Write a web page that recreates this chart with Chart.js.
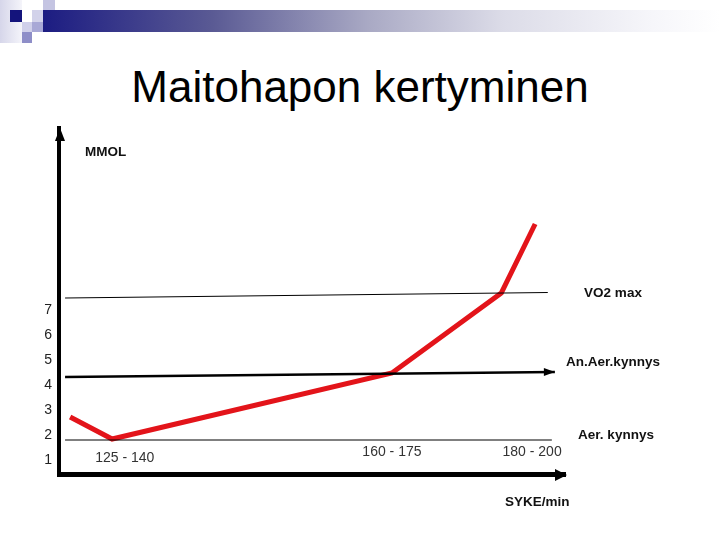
<!DOCTYPE html>
<html>
<head>
<meta charset="utf-8">
<script src="https://cdn.jsdelivr.net/npm/chart.js@4/dist/chart.umd.min.js"></script>
<style>
  body { margin: 0; background: #fff; }
  #wrap { position: relative; width: 720px; height: 540px; overflow: hidden; }
  #wrap canvas { position: absolute; left: 0; top: 0; }
  .bar { position: absolute; left: 43px; top: 10px; width: 677px; height: 22px;
         background: linear-gradient(to right, #1c1c82 0%, #5a5a94 25%, #a9a9c4 48%, #dcdce8 68%, #f6f6fa 90%, #fff 100%); }
  .sq { position: absolute; }
  h1 { position: absolute; left: 0; top: 62px; width: 720px; margin: 0; text-align: center;
       font: 44px "Liberation Sans", Arial, sans-serif; color: #000; font-weight: normal; }
</style>
</head>
<body>
<div id="wrap">
  <div class="sq" style="left:0;top:0;width:22px;height:43px;background:linear-gradient(to right,#d6d6ea,#f4f4fa);"></div>
  <div class="sq" style="left:43px;top:0;width:12px;height:10px;background:#c4c4e2;"></div>
  <div class="sq" style="left:10px;top:10px;width:12px;height:12px;background:#14147c;"></div>
  <div class="sq" style="left:32px;top:10px;width:11px;height:12px;background:#d2d2ea;"></div>
  <div class="sq" style="left:43px;top:10px;width:12px;height:12px;background:#a4a4d4;"></div>
  <div class="sq" style="left:22px;top:22px;width:10px;height:10px;background:#d0d0ea;"></div>
  <div class="sq" style="left:32px;top:22px;width:11px;height:10px;background:#a8a8d6;"></div>
  <div class="sq" style="left:22px;top:32px;width:10px;height:11px;background:#8e8ec8;"></div>
  <div class="bar"></div>
  <h1>Maitohapon kertyminen</h1>
  <canvas id="myChart" width="720" height="540"></canvas>
</div>
<script>
// values (x = position along the heart-rate axis 0..10, y = MMOL)
const yTicks = [1, 2, 3, 4, 5, 6, 7];
const lactX = [0.22, 1.05, 6.58, 8.74, 9.41];
const lactY = [2.72, 1.84, 4.48, 7.68, 10.44];

const vo2X = [0.12, 9.66];
const vo2Y = [7.48, 7.70];
const anaerX = [0.12, 9.80];
const anaerY = [4.32, 4.52];
const aerX = [0.12, 9.74];
const aerY = [1.80, 1.80];

const hrLabels = ["125 - 140", "160 - 175", "180 - 200"];
const hrLabelX = [1.30, 6.58, 9.35];
const hrLabelY = [1.08, 1.32, 1.32];

const lineNames = ["VO2 max", "An.Aer.kynnys", "Aer. kynnys"];
const lineNameY = [7.68, 4.92, 2.0];

const FONT = '"Liberation Sans", Arial, sans-serif';

function pts(xs, ys) {
  return xs.map(function(x, i) { return { x: x, y: ys[i] }; });
}

function arrow(ctx, x, y, dir, len, half) {
  ctx.beginPath();
  if (dir === "right") {
    ctx.moveTo(x, y); ctx.lineTo(x - len, y - half); ctx.lineTo(x - len, y + half);
  } else {
    ctx.moveTo(x, y); ctx.lineTo(x - half, y + len); ctx.lineTo(x + half, y + len);
  }
  ctx.closePath();
  ctx.fill();
}

const extras = {
  id: "extras",
  afterDraw: function(chart) {
    const ctx = chart.ctx;
    const a = chart.chartArea;
    const xs = chart.scales.x, ys = chart.scales.y;
    ctx.save();
    ctx.fillStyle = "#000";
    // axis arrows
    arrow(ctx, a.left + 1, a.top, "up", 13, 5);
    arrow(ctx, a.right + 2, a.bottom + 1, "right", 12, 6);
    // anaerobic threshold arrow
    arrow(ctx, xs.getPixelForValue(anaerX[1]), ys.getPixelForValue(anaerY[1]), "right", 11, 4);

    // heart rate labels
    ctx.font = "14px " + FONT;
    ctx.fillStyle = "#333";
    ctx.textAlign = "center";
    ctx.textBaseline = "middle";
    hrLabels.forEach(function(t, i) {
      ctx.fillText(t, xs.getPixelForValue(hrLabelX[i]), ys.getPixelForValue(hrLabelY[i]));
    });

    // threshold names
    ctx.font = "bold 13.5px " + FONT;
    ctx.fillStyle = "#111";
    lineNames.forEach(function(t, i) {
      ctx.fillText(t, a.right + 48 + (i === 2 ? 3 : 0), ys.getPixelForValue(lineNameY[i]));
    });

    // axis titles
    ctx.textAlign = "left";
    ctx.fillText("MMOL", a.left + 26, ys.getPixelForValue(13.32));
    ctx.textAlign = "center";
    ctx.fillText("SYKE/min", xs.getPixelForValue(9.45), a.bottom + 28);
    ctx.restore();
  }
};

let myChart = document.getElementById("myChart").getContext("2d");

let chart = new Chart(myChart, {
  type: "scatter",
  data: {
    datasets: [
      { data: pts(vo2X, vo2Y), showLine: true, borderColor: "#000", borderWidth: 1, pointRadius: 0 },
      { data: pts(anaerX, anaerY), showLine: true, borderColor: "#000", borderWidth: 2.5, pointRadius: 0 },
      { data: pts(aerX, aerY), showLine: true, borderColor: "#000", borderWidth: 1, pointRadius: 0 },
      { data: pts(lactX, lactY), showLine: true, borderColor: "#e3141a", borderWidth: 5, pointRadius: 0,
        borderJoinStyle: "miter" }
    ]
  },
  options: {
    responsive: false,
    animation: false,
    layout: { padding: { left: 19, top: 128, right: 155, bottom: 0 } },
    plugins: { legend: { display: false }, tooltip: { enabled: false } },
    scales: {
      x: {
        type: "linear", min: 0, max: 10,
        grid: { display: false, drawTicks: false },
        border: { color: "#000", width: 5 },
        ticks: { display: false },
        afterFit: function(s) { s.height = 66; }
      },
      y: {
        type: "linear", min: 0.44, max: 14.28,
        afterBuildTicks: function(s) { s.ticks = yTicks.map(function(v) { return { value: v }; }); },
        grid: { display: false, drawTicks: false },
        border: { color: "#000", width: 4 },
        ticks: { color: "#222", padding: 7, font: { family: FONT, size: 14 } },
        afterFit: function(s) { s.width = 40; }
      }
    }
  },
  plugins: [extras]
});
</script>
</body>
</html>
